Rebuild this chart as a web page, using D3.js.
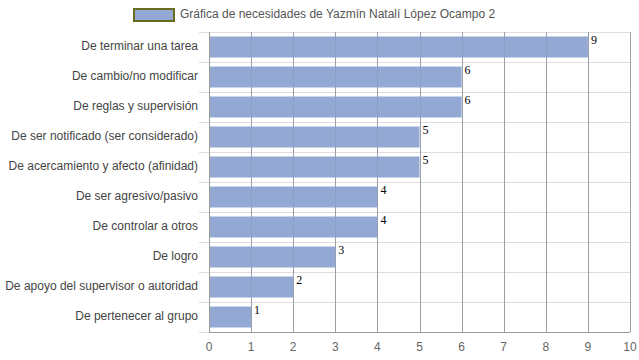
<!DOCTYPE html>
<html>
<head>
<meta charset="utf-8">
<script src="https://cdn.jsdelivr.net/npm/d3@7"></script>
<style>
body { margin: 0; background: #fff; }
svg { display: block; }
</style>
</head>
<body>
<svg id="chart" width="639" height="360"></svg>
<script>
const categories = [
  "De terminar una tarea",
  "De cambio/no modificar",
  "De reglas y supervisión",
  "De ser notificado (ser considerado)",
  "De acercamiento y afecto (afinidad)",
  "De ser agresivo/pasivo",
  "De controlar a otros",
  "De logro",
  "De apoyo del supervisor o autoridad",
  "De pertenecer al grupo"
];
const values = [9, 6, 6, 5, 5, 4, 4, 3, 2, 1];
const xTicks = [0, 1, 2, 3, 4, 5, 6, 7, 8, 9, 10];
const seriesName = "Gráfica de necesidades de Yazmín Natalí López Ocampo 2";

(function () {
const svg = d3.select("#chart");
const pLeft = 209, pRight = 630, pTop = 32, pBottom = 332;

const x = d3.scaleLinear().domain([0, 10]).range([pLeft, pRight]);
const y = d3.scaleBand().domain(categories).range([pTop, pBottom]).paddingInner(0.3).paddingOuter(0.15);

// horizontal grid lines (band boundaries)
const hLines = d3.range(categories.length + 1).map(i => pTop + i * (pBottom - pTop) / categories.length);
svg.append("g").selectAll("line").data(hLines).join("line")
  .attr("x1", 199).attr("x2", pRight)
  .attr("y1", d => Math.round(d) + 0.5).attr("y2", d => Math.round(d) + 0.5)
  .attr("stroke", "#dddddd").attr("stroke-width", 1);

// vertical grid lines
svg.append("g").selectAll("line").data(xTicks).join("line")
  .attr("x1", d => Math.round(x(d)) + 0.5).attr("x2", d => Math.round(x(d)) + 0.5)
  .attr("y1", pTop).attr("y2", pBottom)
  .attr("stroke", "#aaaaaa").attr("stroke-width", 1);

// bars
svg.append("g").selectAll("rect").data(values).join("rect")
  .attr("x", x(0) + 1)
  .attr("y", (d, i) => y(categories[i]))
  .attr("width", d => x(d) - x(0) - 1)
  .attr("height", y.bandwidth())
  .attr("fill", "#93a9d4");

// vertical grid lines show through bars
svg.append("g").selectAll("line").data(xTicks.slice(1)).join("line")
  .attr("x1", d => Math.round(x(d)) + 0.5).attr("x2", d => Math.round(x(d)) + 0.5)
  .attr("y1", pTop).attr("y2", pBottom)
  .attr("stroke", "#7f8aa6").attr("stroke-opacity", 0.35).attr("stroke-width", 1);

// axis lines
svg.append("line").attr("x1", Math.round(x(0)) + 0.5).attr("x2", Math.round(x(0)) + 0.5)
  .attr("y1", pTop).attr("y2", pBottom).attr("stroke", "#999");
svg.append("line").attr("x1", x(0)).attr("x2", pRight)
  .attr("y1", pBottom + 0.5).attr("y2", pBottom + 0.5).attr("stroke", "#999");

// value labels
svg.append("g").selectAll("text").data(values).join("text")
  .attr("x", d => x(d) + 3)
  .attr("y", (d, i) => y(categories[i]) + 7)
  .attr("font-family", "Liberation Serif, Times New Roman, serif")
  .attr("font-size", 12)
  .attr("fill", "#000")
  .text(d => d);

// category labels
svg.append("g").selectAll("text").data(categories).join("text")
  .attr("x", 198)
  .attr("y", d => y(d) + y.bandwidth() / 2 - 1)
  .attr("dy", "0.35em")
  .attr("text-anchor", "end")
  .attr("font-family", "Liberation Sans, Arial, sans-serif")
  .attr("font-size", 12)
  .attr("fill", "#444")
  .text(d => d);

// x tick labels
svg.append("g").selectAll("text").data(xTicks).join("text")
  .attr("x", d => x(d))
  .attr("y", 347)
  .attr("dy", "0.35em")
  .attr("text-anchor", "middle")
  .attr("font-family", "Liberation Sans, Arial, sans-serif")
  .attr("font-size", 12)
  .attr("fill", "#666")
  .text(d => d);

// legend
svg.append("rect").attr("x", 134).attr("y", 9).attr("width", 40).attr("height", 12)
  .attr("fill", "#93a9d4").attr("stroke", "#6b6b1f").attr("stroke-width", 2);
svg.append("text").attr("x", 180).attr("y", 14).attr("dy", "0.35em")
  .attr("font-family", "Liberation Sans, Arial, sans-serif")
  .attr("font-size", 12).attr("fill", "#555")
  .text(seriesName);
})();
</script>
</body>
</html>
